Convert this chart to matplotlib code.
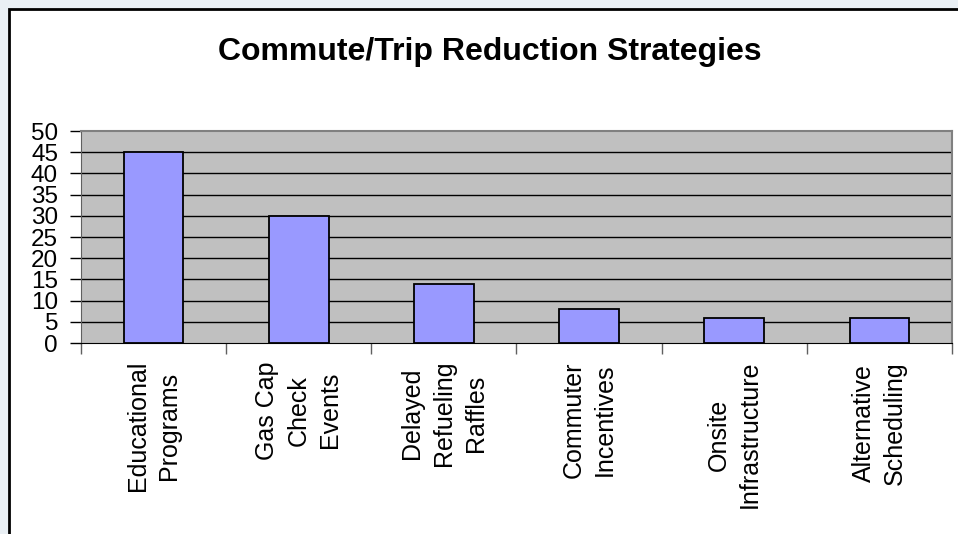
import matplotlib.pyplot as plt
from matplotlib.patches import Rectangle
from matplotlib.transforms import blended_transform_factory

plt.rcParams['font.family'] = ['Liberation Sans', 'DejaVu Sans']

title = "Commute/Trip Reduction Strategies"
categories = [
    "Educational\nPrograms",
    "Gas Cap\nCheck\nEvents",
    "Delayed\nRefueling\nRaffles",
    "Commuter\nIncentives",
    "Onsite\nInfrastructure",
    "Alternative\nScheduling",
]
values = [45, 30, 14, 8, 6, 6]
yticks = [0, 5, 10, 15, 20, 25, 30, 35, 40, 45, 50]

W, H = 958, 534
fig = plt.figure(figsize=(W / 100, H / 100), dpi=100, facecolor='#e9eff4')

# white chart frame, running off the right and bottom edges
fig.patches.append(Rectangle((9 / W, -0.05), 1.1, 1 - 9 / H + 0.05,
                             transform=fig.transFigure, facecolor='white',
                             edgecolor='black', linewidth=2, zorder=-5))

fig.text(490 / W, 1 - 52 / H, title, ha='center', va='center',
         fontsize=23, fontweight='bold')

left, right, top, bottom = 81, 952, 131, 343
ax = fig.add_axes([left / W, 1 - bottom / H, (right - left) / W, (bottom - top) / H])
ax.set_zorder(2)
ax.set_facecolor('#c0c0c0')

n = len(values)
xs = list(range(n))
ax.bar(xs, values, width=0.41, color='#9999ff', edgecolor='black',
       linewidth=1.3, zorder=3)
ax.set_xlim(-0.5, n - 0.5)
ax.set_ylim(0, 50)
ax.set_yticks(yticks)
ax.set_yticklabels([str(v) for v in yticks], fontsize=17.5)
for v in yticks[1:-1]:
    ax.axhline(v, color='black', linewidth=1, zorder=1)

ax.set_xticks([i - 0.5 for i in range(n + 1)])
ax.set_xticklabels([])
ax.tick_params(axis='x', length=8, width=1, color='#606060')
ax.tick_params(axis='y', length=8, width=1, color='black', pad=8.5)

for s in ['top', 'right']:
    ax.spines[s].set_color('#808080')
    ax.spines[s].set_linewidth(1.5)
ax.spines['left'].set_color('#606060')
ax.spines['bottom'].set_color('black')

trans = blended_transform_factory(ax.transData, fig.transFigure)
for x, lab in zip(xs, categories):
    ax.text(x, 1 - 361 / H, lab, transform=trans, rotation=90,
            ha='center', va='top', multialignment='center',
            fontsize=18, linespacing=1.4)

fig.savefig('out.png', dpi=100, facecolor=fig.get_facecolor())
